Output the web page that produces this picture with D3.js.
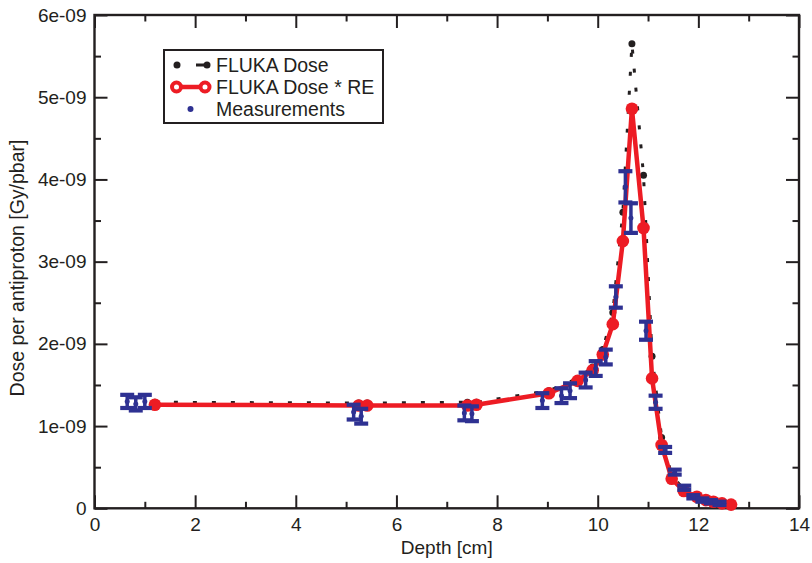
<!DOCTYPE html>
<html>
<head>
<meta charset="utf-8">
<script src="https://cdn.jsdelivr.net/npm/d3@7/dist/d3.min.js"></script>
<style>
  html, body { margin: 0; padding: 0; background: #fff; }
  svg { display: block; font-family: "Liberation Sans", Arial, Helvetica, sans-serif; }
</style>
</head>
<body>
<svg id="chart" width="812" height="563"></svg>
<script>
// ---- data ----
const modelDepth = [1.2, 5.25, 5.42, 7.41, 7.59, 9.03, 9.6, 9.9, 10.1, 10.3, 10.5, 10.68, 10.91, 11.08, 11.27, 11.47, 11.71, 11.97, 12.15, 12.3, 12.47, 12.65];
const flukaDose = [1.29, 1.28, 1.28, 1.29, 1.29, 1.43, 1.58, 1.72, 1.93, 2.38, 3.6, 5.65, 4.05, 1.85, 0.86, 0.40, 0.23, 0.15, 0.11, 0.085, 0.065, 0.048];
const flukaDoseRE = [1.26, 1.25, 1.25, 1.25, 1.26, 1.40, 1.55, 1.68, 1.87, 2.24, 3.25, 4.86, 3.41, 1.58, 0.77, 0.36, 0.21, 0.14, 0.10, 0.08, 0.06, 0.045];

const measDepth = [0.65, 0.82, 1.0, 5.15, 5.3, 7.35, 7.5, 8.9, 9.28, 9.45, 9.76, 9.96, 10.16, 10.36, 10.55, 10.66, 10.96, 11.15, 11.34, 11.53, 11.72, 11.9, 12.08, 12.25, 12.42];
const measDose = [1.30, 1.27, 1.30, 1.17, 1.12, 1.16, 1.15, 1.31, 1.37, 1.43, 1.56, 1.70, 1.84, 2.57, 3.91, 3.53, 2.16, 1.29, 0.71, 0.44, 0.25, 0.14, 0.10, 0.08, 0.06];
const measErr = [0.08, 0.08, 0.08, 0.09, 0.09, 0.09, 0.09, 0.09, 0.09, 0.09, 0.09, 0.09, 0.09, 0.13, 0.19, 0.18, 0.11, 0.08, 0.036, 0.03, 0.025, 0.02, 0.02, 0.02, 0.02];

const xTicks = [0, 2, 4, 6, 8, 10, 12, 14];
const xMinor = [1, 3, 5, 7, 9, 11, 13];
const yTicks = [0, 1e-9, 2e-9, 3e-9, 4e-9, 5e-9, 6e-9];
const yTickLabels = ["0", "1e-09", "2e-09", "3e-09", "4e-09", "5e-09", "6e-09"];
const yMinor = [0.5e-9, 1.5e-9, 2.5e-9, 3.5e-9, 4.5e-9, 5.5e-9];
const legendLabels = ["FLUKA Dose", "FLUKA Dose * RE", "Measurements"];
const SCALE = 1e-9;

// ---- styles ----
const INK = "#231f20", RED = "#ed1c24", BLUE = "#2e3192";
const L = 94.5, R = 799, T = 15, B = 508.3;

const svg = d3.select("#chart");
const x = d3.scaleLinear().domain([0, 14]).range([L, R]);
const y = d3.scaleLinear().domain([0, 6e-9]).range([B, T]);

const fluka = modelDepth.map((d, i) => ({x: d, y: flukaDose[i] * SCALE}));
const re = modelDepth.map((d, i) => ({x: d, y: flukaDoseRE[i] * SCALE}));
const meas = measDepth.map((d, i) => ({x: d, y: measDose[i] * SCALE, e: measErr[i] * SCALE}));

function styleAxis(g) {
  g.select(".domain").remove();
  g.selectAll(".tick line").attr("stroke", INK).attr("stroke-width", 2);
  g.selectAll(".tick text").attr("fill", INK).style("font-size", "19px");
}

// bottom axis with labels
svg.append("g").attr("transform", `translate(0,${B})`)
  .call(d3.axisBottom(x).tickValues(xTicks).tickSizeInner(-13).tickSizeOuter(0).tickPadding(9).tickFormat(d3.format("d")))
  .call(styleAxis);
svg.append("g").attr("transform", `translate(0,${B})`)
  .call(d3.axisBottom(x).tickValues(xMinor).tickSizeInner(-6.5).tickSizeOuter(0).tickFormat(""))
  .call(styleAxis);
// top axis
svg.append("g").attr("transform", `translate(0,${T})`)
  .call(d3.axisTop(x).tickValues(xTicks).tickSizeInner(-13).tickSizeOuter(0).tickFormat(""))
  .call(styleAxis);
svg.append("g").attr("transform", `translate(0,${T})`)
  .call(d3.axisTop(x).tickValues(xMinor).tickSizeInner(-6.5).tickSizeOuter(0).tickFormat(""))
  .call(styleAxis);
// left axis with labels
svg.append("g").attr("transform", `translate(${L},0)`)
  .call(d3.axisLeft(y).tickValues(yTicks).tickSizeInner(-13).tickSizeOuter(0).tickPadding(8)
    .tickFormat((d, i) => yTickLabels[i]))
  .call(styleAxis);
svg.append("g").attr("transform", `translate(${L},0)`)
  .call(d3.axisLeft(y).tickValues(yMinor).tickSizeInner(-6.5).tickSizeOuter(0).tickFormat(""))
  .call(styleAxis);
// right axis
svg.append("g").attr("transform", `translate(${R},0)`)
  .call(d3.axisRight(y).tickValues(yTicks).tickSizeInner(-13).tickSizeOuter(0).tickFormat(""))
  .call(styleAxis);
svg.append("g").attr("transform", `translate(${R},0)`)
  .call(d3.axisRight(y).tickValues(yMinor).tickSizeInner(-6.5).tickSizeOuter(0).tickFormat(""))
  .call(styleAxis);

// frame
svg.append("rect").attr("x", L).attr("y", T).attr("width", R - L).attr("height", B - T)
  .attr("fill", "none").attr("stroke", INK).attr("stroke-width", 2.4);

// axis titles
svg.append("text").attr("x", (L + R) / 2).attr("y", 554).attr("text-anchor", "middle")
  .attr("fill", INK).style("font-size", "19px").text("Depth [cm]");
svg.append("text").attr("transform", "translate(24,268) rotate(-90)").attr("text-anchor", "middle")
  .attr("fill", INK).style("font-size", "19.5px").text("Dose per antiproton [Gy/pbar]");

const line = d3.line().x(d => x(d.x)).y(d => y(d.y));

// FLUKA dose (black dotted)
svg.append("path").datum(fluka).attr("d", line).attr("fill", "none")
  .attr("stroke", INK).attr("stroke-width", 3).attr("stroke-dasharray", "4,15");
svg.append("g").selectAll("circle").data(fluka).join("circle")
  .attr("cx", d => x(d.x)).attr("cy", d => y(d.y)).attr("r", 3.5).attr("fill", INK);

// FLUKA dose * RE (red)
svg.append("path").datum(re).attr("d", line).attr("fill", "none")
  .attr("stroke", RED).attr("stroke-width", 4.5).attr("stroke-linejoin", "round");
svg.append("g").selectAll("circle").data(re).join("circle")
  .attr("cx", d => x(d.x)).attr("cy", d => y(d.y)).attr("r", 6.3)
  .attr("fill", RED);

// Measurements (blue with error bars)
const mg = svg.append("g").attr("stroke", BLUE).attr("stroke-width", 3.5);
const eb = mg.selectAll("g").data(meas).join("g");
eb.append("line").attr("x1", d => x(d.x)).attr("x2", d => x(d.x))
  .attr("y1", d => y(d.y - d.e)).attr("y2", d => y(d.y + d.e));
eb.append("line").attr("x1", d => x(d.x) - 7).attr("x2", d => x(d.x) + 7)
  .attr("y1", d => y(d.y - d.e)).attr("y2", d => y(d.y - d.e)).attr("stroke-width", 4.2);
eb.append("line").attr("x1", d => x(d.x) - 7).attr("x2", d => x(d.x) + 7)
  .attr("y1", d => y(d.y + d.e)).attr("y2", d => y(d.y + d.e)).attr("stroke-width", 4.2);
eb.append("circle").attr("cx", d => x(d.x)).attr("cy", d => y(d.y)).attr("r", 2.5)
  .attr("fill", BLUE).attr("stroke", "none");

// legend
const lg = svg.append("g");
lg.append("rect").attr("x", 164).attr("y", 50).attr("width", 219).attr("height", 73)
  .attr("fill", "#fff").attr("stroke", INK).attr("stroke-width", 2);
const rows = [65, 87, 109];
lg.append("line").attr("x1", 177).attr("x2", 208).attr("y1", rows[0]).attr("y2", rows[0])
  .attr("stroke", INK).attr("stroke-width", 3).attr("stroke-dasharray", "0,19,9,10");
lg.append("circle").attr("cx", 177).attr("cy", rows[0]).attr("r", 3.5).attr("fill", INK);
lg.append("circle").attr("cx", 207).attr("cy", rows[0]).attr("r", 3.5).attr("fill", INK);
lg.append("circle").attr("cx", 176.5).attr("cy", rows[1]).attr("r", 4.5).attr("fill", "#fff").attr("stroke", RED).attr("stroke-width", 4);
lg.append("circle").attr("cx", 205).attr("cy", rows[1]).attr("r", 4.5).attr("fill", "#fff").attr("stroke", RED).attr("stroke-width", 4);
lg.append("line").attr("x1", 181).attr("x2", 200).attr("y1", rows[1]).attr("y2", rows[1])
  .attr("stroke", RED).attr("stroke-width", 4.5);
lg.append("circle").attr("cx", 190.5).attr("cy", rows[2]).attr("r", 3).attr("fill", BLUE);
lg.selectAll("text.lab").data(legendLabels).join("text").attr("class", "lab")
  .attr("x", 216).attr("y", (d, i) => rows[i] + 6.5).attr("fill", INK)
  .style("font-size", "19.5px").text(d => d);
</script>
</body>
</html>
